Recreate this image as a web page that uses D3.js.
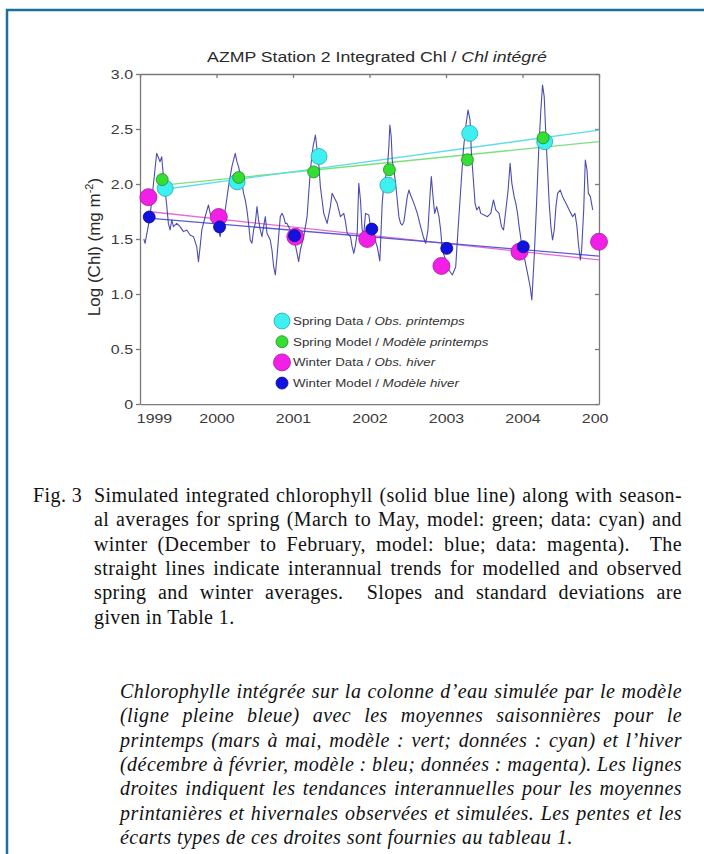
<!DOCTYPE html>
<html>
<head>
<meta charset="utf-8">
<script src="https://cdn.jsdelivr.net/npm/d3@7"></script>
<style>
  html, body { margin: 0; padding: 0; background: #fff; }
  svg { display: block; }
</style>
</head>
<body>
<div id="chart"></div>
<script>
// ---- data ----
const yearTicks = [1999, 2000, 2001, 2002, 2003, 2004, 2005];
const chlTicks = [0, 0.5, 1.0, 1.5, 2.0, 2.5, 3.0];

// simulated integrated chl (decimal year, log chl)
const modelT = [1999.05, 1999.066, 1999.131, 1999.218, 1999.262, 1999.284, 1999.306, 1999.328, 1999.349, 1999.371, 1999.393, 1999.415, 1999.437, 1999.48, 1999.524, 1999.568, 1999.611, 1999.655, 1999.699, 1999.742, 1999.764, 1999.786, 1999.808, 1999.852, 1999.895, 1999.917, 1999.961, 2000.004, 2000.026, 2000.048, 2000.07, 2000.114, 2000.157, 2000.201, 2000.245, 2000.267, 2000.288, 2000.332, 2000.354, 2000.376, 2000.398, 2000.419, 2000.441, 2000.463, 2000.485, 2000.507, 2000.529, 2000.55, 2000.572, 2000.594, 2000.616, 2000.638, 2000.66, 2000.703, 2000.725, 2000.747, 2000.769, 2000.791, 2000.812, 2000.834, 2000.856, 2000.878, 2000.9, 2000.922, 2000.965, 2001.009, 2001.053, 2001.074, 2001.096, 2001.14, 2001.184, 2001.227, 2001.262, 2001.293, 2001.315, 2001.336, 2001.358, 2001.38, 2001.402, 2001.446, 2001.489, 2001.511, 2001.555, 2001.577, 2001.62, 2001.664, 2001.686, 2001.708, 2001.751, 2001.773, 2001.795, 2001.817, 2001.839, 2001.86, 2001.882, 2001.904, 2001.926, 2001.948, 2001.991, 2002.013, 2002.057, 2002.101, 2002.135, 2002.166, 2002.188, 2002.232, 2002.253, 2002.266, 2002.284, 2002.297, 2002.319, 2002.341, 2002.363, 2002.384, 2002.406, 2002.428, 2002.45, 2002.494, 2002.515, 2002.537, 2002.581, 2002.625, 2002.668, 2002.703, 2002.734, 2002.764, 2002.79, 2002.808, 2002.834, 2002.852, 2002.878, 2002.908, 2002.93, 2002.952, 2002.996, 2003.039, 2003.083, 2003.127, 2003.157, 2003.192, 2003.227, 2003.258, 2003.288, 2003.314, 2003.332, 2003.358, 2003.38, 2003.402, 2003.432, 2003.454, 2003.498, 2003.542, 2003.585, 2003.62, 2003.651, 2003.694, 2003.725, 2003.752, 2003.782, 2003.812, 2003.838, 2003.861, 2003.891, 2003.913, 2003.935, 2003.956, 2003.987, 2004.022, 2004.066, 2004.1, 2004.122, 2004.153, 2004.184, 2004.21, 2004.24, 2004.262, 2004.284, 2004.306, 2004.328, 2004.349, 2004.371, 2004.393, 2004.415, 2004.437, 2004.459, 2004.493, 2004.524, 2004.568, 2004.611, 2004.655, 2004.686, 2004.712, 2004.73, 2004.756, 2004.773, 2004.8, 2004.821, 2004.843, 2004.861, 2004.887, 2004.918];
const modelChl = [1.50, 1.461, 1.703, 2.279, 2.203, 2.248, 2.067, 1.945, 1.809, 1.642, 1.582, 1.673, 1.612, 1.642, 1.612, 1.567, 1.582, 1.536, 1.521, 1.43, 1.294, 1.43, 1.582, 1.703, 1.809, 1.733, 1.673, 1.642, 1.582, 1.521, 1.612, 1.764, 1.976, 2.158, 2.279, 2.203, 2.158, 2.021, 1.915, 1.855, 1.764, 1.642, 1.491, 1.461, 1.582, 1.642, 1.794, 1.673, 1.582, 1.521, 1.612, 1.703, 1.552, 1.491, 1.4, 1.248, 1.173, 1.339, 1.521, 1.703, 1.733, 1.703, 1.642, 1.642, 1.582, 1.521, 1.37, 1.294, 1.4, 1.521, 1.703, 2.127, 2.339, 2.445, 2.309, 2.188, 1.976, 1.855, 1.733, 1.642, 1.794, 1.915, 1.855, 1.824, 1.703, 1.733, 1.658, 1.552, 1.521, 1.43, 1.37, 1.445, 1.552, 2.006, 1.855, 1.582, 1.552, 1.733, 1.718, 1.612, 1.521, 1.43, 1.30, 1.824, 2.006, 2.127, 2.339, 2.536, 2.43, 2.218, 2.127, 2.006, 1.855, 1.703, 1.642, 1.627, 1.658, 1.885, 1.945, 1.9, 1.824, 1.733, 1.612, 1.521, 1.461, 1.582, 1.885, 2.067, 1.855, 1.733, 1.794, 1.703, 1.582, 1.4, 1.309, 1.218, 1.173, 1.248, 1.582, 1.945, 2.309, 2.521, 2.673, 2.582, 2.279, 2.036, 1.824, 1.764, 1.794, 1.733, 1.718, 1.703, 1.733, 1.855, 1.764, 1.733, 1.612, 1.582, 1.764, 1.945, 2.188, 2.006, 1.885, 1.824, 1.733, 1.612, 1.461, 1.339, 1.188, 1.066, 0.945, 1.339, 1.824, 2.279, 2.673, 2.9, 2.794, 2.43, 2.127, 1.824, 1.612, 1.491, 1.582, 1.794, 1.915, 1.945, 1.885, 1.824, 1.764, 1.703, 1.733, 1.612, 1.461, 1.309, 1.4, 1.764, 2.218, 2.127, 1.915, 1.885, 1.764];

// seasonal averages
const springDataT = [1999.33, 2000.27, 2001.34, 2002.24, 2003.31, 2004.29];
const springData = [1.96, 2.02, 2.25, 1.99, 2.46, 2.385];
const springModelT = [1999.29, 2000.29, 2001.27, 2002.26, 2003.28, 2004.27];
const springModel = [2.04, 2.06, 2.11, 2.13, 2.22, 2.42];
const winterDataT = [1999.11, 2000.03, 2001.03, 2001.97, 2002.94, 2003.96, 2005.0];
const winterData = [1.88, 1.70, 1.52, 1.50, 1.255, 1.385, 1.475];
const winterModelT = [1999.12, 2000.04, 2001.02, 2002.03, 2003.01, 2004.01];
const winterModel = [1.70, 1.61, 1.53, 1.59, 1.415, 1.43];

// interannual trend lines [start, end]
const trendT = [1999.3, 2005.0];
const springDataTrend = [1.95, 2.49];
const springModelTrend = [1.99, 2.385];
const winterTrendT = [1999.11, 2005.0];
const winterDataTrend = [1.75, 1.31];
const winterModelTrend = [1.69, 1.345];

const legendItems = [
  { en: "Spring Data / ", fr: "Obs. printemps", fill: "#3ff0f0", stroke: "#2aa6b4", r: 8 },
  { en: "Spring Model / ", fr: "Modèle printemps", fill: "#35dd35", stroke: "#1d8f1d", r: 6 },
  { en: "Winter Data / ", fr: "Obs. hiver", fill: "#f21fe6", stroke: "#a0209a", r: 8.5 },
  { en: "Winter Model / ", fr: "Modèle hiver", fill: "#1212e0", stroke: "#0a0a80", r: 6 }
];

const captionEn = [
  "Simulated integrated chlorophyll (solid blue line) along with season-",
  "al averages for spring (March to May, model: green; data: cyan) and",
  "winter (December to February, model: blue; data: magenta).  The",
  "straight lines indicate interannual trends for modelled and observed",
  "spring and winter averages.  Slopes and standard deviations are",
  "given in Table 1."
];
const captionFr = [
  "Chlorophylle intégrée sur la colonne d’eau simulée par le modèle",
  "(ligne pleine bleue) avec les moyennes saisonnières pour le",
  "printemps (mars à mai, modèle : vert; données : cyan) et l’hiver",
  "(décembre à février, modèle : bleu; données : magenta). Les lignes",
  "droites indiquent les tendances interannuelles pour les moyennes",
  "printanières et hivernales observées et simulées. Les pentes et les",
  "écarts types de ces droites sont fournies au tableau 1."
];

// ---- layout ----
const width = 704, height = 854;
const plot = { left: 140, right: 599, top: 74, bottom: 404 };
const axisColor = "#7a7a7a";
const sans = "'Liberation Sans', Arial, Helvetica, sans-serif";
const serif = "'Liberation Serif', 'Times New Roman', serif";
const stretch = 1.18; // the figure's lettering is a bit wide

const svg = d3.select("#chart").append("svg")
  .attr("width", width).attr("height", height);

svg.append("rect").attr("width", width).attr("height", height).attr("fill", "#fff");

// page frame (top and left rules)
svg.append("path")
  .attr("d", `M7,${height} L7,10 L${width},10`)
  .attr("fill", "none").attr("stroke", "#1d6fa3").attr("stroke-width", 2.5);

const x = d3.scaleLinear().domain([1999, 2005]).range([plot.left, plot.right]);
const y = d3.scaleLinear().domain([0, 3]).range([plot.bottom, plot.top]);

// ---- axes ----
svg.append("defs").append("clipPath").attr("id", "xclip")
  .append("rect").attr("x", 0).attr("y", 0).attr("width", 609).attr("height", height);

const xAxis = svg.append("g")
  .attr("transform", `translate(0,${plot.bottom})`)
  .attr("clip-path", "url(#xclip)")
  .call(d3.axisBottom(x).tickValues(yearTicks).tickFormat(d3.format("d"))
    .tickSize(-4).tickSizeOuter(0).tickPadding(9));
xAxis.selectAll("text")
  .attr("transform", d => `translate(${d === 1999 ? 14 : 0},0) scale(${stretch},1)`);

const yAxis = svg.append("g")
  .attr("transform", `translate(${plot.left},0)`)
  .call(d3.axisLeft(y).tickValues(chlTicks)
    .tickFormat(d => d === 0 ? "0" : d3.format(".1f")(d))
    .tickSize(4).tickSizeOuter(0).tickPadding(0));
yAxis.selectAll("text").attr("x", 0)
  .attr("transform", `translate(-7,0) scale(${stretch},1)`);

svg.append("g")
  .attr("transform", `translate(0,${plot.top})`)
  .call(d3.axisTop(x).tickValues(yearTicks).tickFormat("").tickSize(-4).tickSizeOuter(0));
svg.append("g")
  .attr("transform", `translate(${plot.right},0)`)
  .call(d3.axisRight(y).tickValues(chlTicks).tickFormat("").tickSize(-4).tickSizeOuter(0));

svg.selectAll(".domain, .tick line")
  .attr("stroke", axisColor).attr("stroke-width", 1.3);
svg.selectAll(".tick text")
  .attr("fill", "#3a3a3a").style("font-family", sans).style("font-size", "13.5px");

// title
const title = svg.append("text")
  .attr("transform", `translate(377,62) scale(${stretch},1)`)
  .attr("text-anchor", "middle")
  .style("font-family", sans).style("font-size", "15px").attr("fill", "#2a2a2a");
title.append("tspan").text("AZMP Station 2 Integrated Chl / ");
title.append("tspan").style("font-style", "italic").text("Chl intégré");

// y label
const ylab = svg.append("text")
  .attr("transform", "translate(100,247) rotate(-90)")
  .attr("text-anchor", "middle")
  .style("font-family", sans).style("font-size", "17px").attr("fill", "#2a2a2a");
ylab.append("tspan").text("Log (Chl) (mg m");
ylab.append("tspan").attr("dy", -7).style("font-size", "11px").text("-2");
ylab.append("tspan").attr("dy", 7).text(")");

// ---- trend lines ----
const trendLine = d3.line().x(d => x(d[0])).y(d => y(d[1]));
const trends = [
  { t: trendT, v: springModelTrend, c: "#7be27b" },
  { t: trendT, v: springDataTrend, c: "#5fdde6" },
  { t: winterTrendT, v: winterDataTrend, c: "#e46ad8" },
  { t: winterTrendT, v: winterModelTrend, c: "#5a5ad6" }
];
svg.append("g").selectAll("path").data(trends).join("path")
  .attr("d", d => trendLine(d.t.map((t, i) => [t, d.v[i]])))
  .attr("fill", "none").attr("stroke", d => d.c).attr("stroke-width", 1.3);

// ---- simulated series ----
svg.append("path")
  .datum(modelT.map((t, i) => [t, modelChl[i]]))
  .attr("d", trendLine)
  .attr("fill", "none")
  .attr("stroke", "#3838a8")
  .attr("stroke-width", 1.1)
  .attr("stroke-linejoin", "round")
  .attr("opacity", 0.9);

// ---- seasonal markers ----
function dots(ts, vs, item) {
  svg.append("g").selectAll("circle").data(ts.map((t, i) => [t, vs[i]])).join("circle")
    .attr("cx", d => x(d[0])).attr("cy", d => y(d[1])).attr("r", item.r)
    .attr("fill", item.fill).attr("stroke", item.stroke).attr("stroke-width", 0.8);
}
dots(springDataT, springData, legendItems[0]);
dots(springModelT, springModel, legendItems[1]);
dots(winterDataT, winterData, legendItems[2]);
dots(winterModelT, winterModel, legendItems[3]);

// ---- legend ----
const legend = svg.append("g").attr("transform", "translate(282,321)");
const rows = legend.selectAll("g").data(legendItems).join("g")
  .attr("transform", (d, i) => `translate(0,${i * 20.7})`);
rows.append("circle").attr("r", d => d.r)
  .attr("fill", d => d.fill).attr("stroke", d => d.stroke).attr("stroke-width", 0.8);
const lt = rows.append("text")
  .attr("transform", `translate(11,0) scale(${stretch},1)`).attr("dy", "0.35em")
  .style("font-family", sans).style("font-size", "11.3px").attr("fill", "#333");
lt.append("tspan").text(d => d.en);
lt.append("tspan").style("font-style", "italic").text(d => d.fr);

// ---- caption ----
function captionLines(lines, x0, x1, y0, italic, spacing) {
  lines.forEach((line, i) => {
    const t = svg.append("text")
      .attr("x", x0).attr("y", y0 + i * 24.3)
      .style("font-family", serif).style("font-size", "20px")
      .style("font-style", italic ? "italic" : "normal")
      .style("letter-spacing", spacing + "px")
      .style("white-space", "pre")
      .attr("fill", "#111")
      .text(line);
    if (i < lines.length - 1) {
      const w = t.node().getComputedTextLength();
      const gaps = (line.match(/ /g) || []).length;
      if (gaps) t.style("word-spacing", ((x1 - x0 - w) / gaps) + "px");
    }
  });
}
svg.append("text").attr("x", 33).attr("y", 502)
  .style("font-family", serif).style("font-size", "20px").style("letter-spacing", "0.4px")
  .attr("fill", "#111")
  .text("Fig. 3");
captionLines(captionEn, 94, 682, 502, false, 0.4);
captionLines(captionFr, 120, 682, 698, true, 0.45);
</script>
</body>
</html>
